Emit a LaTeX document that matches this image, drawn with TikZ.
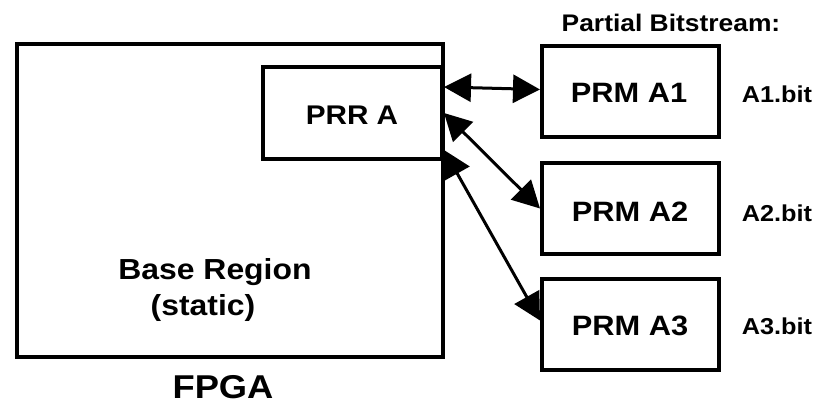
\documentclass[tikz,border=0pt]{standalone}
\usepackage{fontspec}
\setmainfont{Liberation Sans}[FakeStretch=1.1]
\usetikzlibrary{arrows.meta,calc}
\begin{document}
\begin{tikzpicture}[x=1pt,y=-1pt,
  box/.style={draw,line width=4pt,inner sep=0pt,fill=white},
  lbl/.style={anchor=base,inner sep=0pt,font=\bfseries},
  link/.style={line width=3pt,{Triangle[length=27pt 0 0,width=28pt 0 0]}-{Triangle[length=27pt 0 0,width=28pt 0 0]}}]
\useasboundingbox (0,0) rectangle (819,404);
\node[box,minimum width=426pt,minimum height=313pt] (fpga) at (230,200.5) {};
\node[box,minimum width=179pt,minimum height=92pt] (prr) at (352.5,113) {};
\node[box,minimum width=177pt,minimum height=91pt] (prm1) at (630.5,91.5) {};
\node[box,minimum width=177pt,minimum height=91pt] (prm2) at (630.5,208.5) {};
\node[box,minimum width=177pt,minimum height=91pt] (prm3) at (630.5,324.5) {};
\node[lbl,font=\bfseries\fontsize{27}{30}\selectfont] (prrt) at (352,124) {PRR A};
\node[lbl,font=\bfseries\fontsize{29}{32}\selectfont] (base) at (215,279) {Base Region};
\node[lbl,font=\bfseries\fontsize{29}{32}\selectfont] (stat) at (203,315) {(static)};
\node[lbl,font=\bfseries\fontsize{33}{36}\selectfont] (fpgat) at (223,398) {FPGA};
\node[lbl,font=\bfseries\fontsize{24}{27}\selectfont] (part) at (671,32) {Partial Bitstream:};
\node[lbl,font=\bfseries\fontsize{28}{30}\selectfont] (t1) at (629,102) {PRM A1};
\node[lbl,font=\bfseries\fontsize{28}{30}\selectfont] (t2) at (630,221) {PRM A2};
\node[lbl,font=\bfseries\fontsize{28}{30}\selectfont] (t3) at (630,335) {PRM A3};
\node[lbl,font=\bfseries\fontsize{23}{26}\selectfont] (b1) at (777,102) {A1.bit};
\node[lbl,font=\bfseries\fontsize{23}{26}\selectfont] (b2) at (777,221) {A2.bit};
\node[lbl,font=\bfseries\fontsize{23}{26}\selectfont] (b3) at (777,334) {A3.bit};
\coordinate (p1) at ($(prr.north east)+(0,22)$);
\coordinate (p2) at (prr.east);
\coordinate (p3) at ($(prr.south east)+(0,-11)$);
\coordinate (q1) at ($(prm1.west)+(0,-2)$);
\coordinate (q3) at ($(prm3.west)+(0,-4)$);
\draw[link] (p1) -- (q1);
\draw[link] (p2) -- (prm2.west);
\draw[link] (p3) -- (q3);
\end{tikzpicture}
\end{document}
